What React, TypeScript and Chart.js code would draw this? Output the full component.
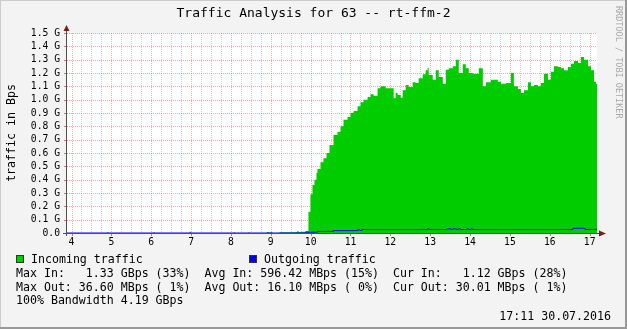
import { useEffect, useRef } from "react";
import { Chart, registerables } from "chart.js";

Chart.register(...registerables);

const FONT = "'DejaVu Sans Mono', monospace";
const TITLE = "Traffic Analysis for 63 -- rt-ffm-2";
const Y_TITLE = "traffic in Bps";
const WATERMARK = "RRDTOOL / TOBI OETIKER";
const TIMESTAMP = "17:11 30.07.2016";

const X_MIN = 3.887;
const X_MAX = 17.185;
const hourTicks = [4, 5, 6, 7, 8, 9, 10, 11, 12, 13, 14, 15, 16, 17];
const yTickValues = [0, 0.1, 0.2, 0.3, 0.4, 0.5, 0.6, 0.7, 0.8, 0.9, 1.0, 1.1, 1.2, 1.3, 1.4, 1.5];

const legendItems = ["Incoming traffic", "Outgoing traffic"];
const legendColors = ["#00CC00", "#0000FF"];
const legendRows = [
  "Max In:   1.33 GBps (33%)  Avg In: 596.42 MBps (15%)  Cur In:   1.12 GBps (28%)",
  "Max Out: 36.60 MBps ( 1%)  Avg Out: 16.10 MBps ( 0%)  Cur Out: 30.01 MBps ( 1%)",
  "100% Bandwidth 4.19 GBps",
];

// time in hours of day, value in G
const inTimes = [
  3.887, 4.9, 4.93, 6.06, 6.09, 6.96, 7.0, 8.07, 8.1, 8.44, 8.47, 8.9, 8.96, 9.0, 9.04, 9.22, 9.62, 9.66, 9.7,
  9.744, 9.87, 9.945, 9.995, 10.046, 10.096, 10.146, 10.171, 10.247, 10.322, 10.398, 10.473, 10.574, 10.674,
  10.75, 10.825, 10.926, 11.001, 11.077, 11.177, 11.253, 11.328, 11.429, 11.504, 11.58, 11.68, 11.756, 11.882,
  12.007, 12.083, 12.133, 12.183, 12.259, 12.309, 12.384, 12.46, 12.56, 12.636, 12.711, 12.812, 12.887, 12.937,
  12.963, 13.063, 13.139, 13.214, 13.315, 13.39, 13.466, 13.566, 13.642, 13.717, 13.818, 13.893, 13.968, 14.069,
  14.144, 14.22, 14.32, 14.396, 14.521, 14.697, 14.773, 14.898, 15.024, 15.099, 15.2, 15.275, 15.35, 15.451,
  15.526, 15.602, 15.702, 15.778, 15.853, 15.954, 16.029, 16.104, 16.205, 16.28, 16.356, 16.456, 16.532, 16.607,
  16.708, 16.783, 16.859, 16.959, 17.035, 17.11, 17.16, 17.185,
];
const inValues = [
  0, 0.008, 0, 0.006, 0, 0.01, 0, 0.006, 0, 0.006, 0, 0.008, 0.004, 0.008, 0, 0.006, 0.008, 0.014, 0.008,
  0.01, 0.015, 0.16, 0.29, 0.36, 0.4, 0.45, 0.48, 0.53, 0.56, 0.6, 0.66, 0.735, 0.76,
  0.8, 0.85, 0.87, 0.9, 0.915, 0.95, 0.98, 1.0, 1.02, 1.04, 1.03, 1.085, 1.1, 1.085,
  1.085, 1.01, 1.05, 1.035, 1.015, 1.07, 1.11, 1.095, 1.13, 1.125, 1.16, 1.19, 1.22, 1.24,
  1.185, 1.15, 1.22, 1.17, 1.12, 1.225, 1.235, 1.25, 1.3, 1.2, 1.265, 1.235, 1.2, 1.195,
  1.195, 1.235, 1.1, 1.13, 1.15, 1.135, 1.12, 1.125, 1.2, 1.1, 1.08, 1.05, 1.07, 1.13,
  1.1, 1.11, 1.1, 1.125, 1.195, 1.15, 1.21, 1.25, 1.245, 1.235, 1.22, 1.245, 1.27, 1.29,
  1.275, 1.32, 1.3, 1.25, 1.22, 1.135, 1.12, 1.12,
];

const outTimes = [
  3.887, 9.87, 10.17, 10.57, 11.18, 11.24, 11.29, 12.93, 12.98, 13.42, 13.52, 13.56, 13.66, 13.7, 13.76,
  13.92, 13.97, 14.02, 14.06, 16.58, 16.88, 17.185,
];
const outValues = [
  0, 0.006, 0.012, 0.018, 0.024, 0.019, 0.026, 0.031, 0.026, 0.031, 0.026, 0.031, 0.026, 0.031, 0.026,
  0.031, 0.026, 0.031, 0.026, 0.035, 0.027, 0.027,
];

const W = 627;
const H = 329;

const rrdPlugin = {
  id: "rrdDecor",
  beforeDraw(chart: any) {
    const { ctx, chartArea } = chart;
    ctx.save();
    ctx.fillStyle = "#F3F3F3";
    ctx.fillRect(0, 0, W, H);
    ctx.fillStyle = "#CBCBCB";
    ctx.fillRect(0, 0, W, 1);
    ctx.fillRect(0, 0, 1, H);
    ctx.fillStyle = "#999999";
    ctx.fillRect(0, H - 2, W, 2);
    ctx.fillRect(W - 2, 0, 2, H);
    ctx.fillStyle = "#FFFFFF";
    ctx.fillRect(chartArea.left, chartArea.top, chartArea.right - chartArea.left, chartArea.bottom - chartArea.top);
    ctx.restore();
  },
  beforeDatasetsDraw(chart: any) {
    const { ctx, chartArea, scales } = chart;
    const xs = scales.x;
    const ys = scales.y;
    ctx.save();
    ctx.lineWidth = 1;
    ctx.setLineDash([1, 1]);
    // minor vertical grid every 15 min
    ctx.strokeStyle = "rgba(150,150,150,0.45)";
    for (let h = 4; h <= 17.2; h += 0.25) {
      if (Math.abs(h - Math.round(h)) < 1e-6) continue;
      if (h > X_MAX) break;
      const px = Math.round(xs.getPixelForValue(h)) + 0.5;
      ctx.beginPath();
      ctx.moveTo(px, chartArea.top);
      ctx.lineTo(px, chartArea.bottom);
      ctx.stroke();
    }
    ctx.strokeStyle = "rgba(220,70,70,0.45)";
    for (const h of hourTicks) {
      const px = Math.round(xs.getPixelForValue(h)) + 0.5;
      ctx.beginPath();
      ctx.moveTo(px, chartArea.top);
      ctx.lineTo(px, chartArea.bottom);
      ctx.stroke();
    }
    for (const v of yTickValues) {
      if (v === 0) continue;
      const py = Math.round(ys.getPixelForValue(v)) + 0.5;
      ctx.beginPath();
      ctx.moveTo(chartArea.left, py);
      ctx.lineTo(chartArea.right, py);
      ctx.stroke();
    }
    ctx.restore();
  },
  afterDatasetsDraw(chart: any) {
    const { ctx, chartArea, scales } = chart;
    const xs = scales.x;
    const ys = scales.y;
    const left = chartArea.left;
    const bottom = chartArea.bottom;
    ctx.save();
    ctx.setLineDash([]);
    ctx.lineWidth = 1;
    // tick marks
    ctx.strokeStyle = "rgba(200,60,60,0.7)";
    for (const v of yTickValues) {
      const py = Math.round(ys.getPixelForValue(v)) + 0.5;
      ctx.beginPath();
      ctx.moveTo(left - 3, py);
      ctx.lineTo(left, py);
      ctx.stroke();
    }
    for (const h of hourTicks) {
      const px = Math.round(xs.getPixelForValue(h)) + 0.5;
      ctx.beginPath();
      ctx.moveTo(px, bottom);
      ctx.lineTo(px, bottom + 3);
      ctx.stroke();
    }
    // axes
    ctx.strokeStyle = "#505050";
    ctx.beginPath();
    ctx.moveTo(left - 0.5, bottom + 3);
    ctx.lineTo(left - 0.5, chartArea.top - 5);
    ctx.stroke();
    ctx.beginPath();
    ctx.moveTo(left - 4, bottom + 0.5);
    ctx.lineTo(chartArea.right + 3, bottom + 0.5);
    ctx.stroke();
    // arrows
    ctx.fillStyle = "#7F1A1A";
    ctx.beginPath();
    ctx.moveTo(left - 0.5, chartArea.top - 8);
    ctx.lineTo(left - 3.5, chartArea.top - 2);
    ctx.lineTo(left + 2.5, chartArea.top - 2);
    ctx.closePath();
    ctx.fill();
    ctx.beginPath();
    ctx.moveTo(chartArea.right + 9, bottom + 0.5);
    ctx.lineTo(chartArea.right + 2, bottom - 2.5);
    ctx.lineTo(chartArea.right + 2, bottom + 3.5);
    ctx.closePath();
    ctx.fill();
    ctx.restore();
  },
  afterDraw(chart: any) {
    const { ctx, chartArea } = chart;
    ctx.save();
    ctx.fillStyle = "#000";
    ctx.textBaseline = "middle";
    // title
    ctx.font = `13px ${FONT}`;
    ctx.textAlign = "center";
    ctx.fillText(TITLE, W / 2, 14);
    // y title
    ctx.save();
    ctx.font = `11.6px ${FONT}`;
    ctx.translate(12, (chartArea.top + chartArea.bottom) / 2);
    ctx.rotate(-Math.PI / 2);
    ctx.fillText(Y_TITLE, 0, 0);
    ctx.restore();
    // watermark
    ctx.save();
    ctx.font = `8.5px ${FONT}`;
    ctx.fillStyle = "#A8A8A8";
    ctx.textAlign = "left";
    ctx.translate(618.5, 6);
    ctx.rotate(Math.PI / 2);
    ctx.fillText(WATERMARK, 0, 0);
    ctx.restore();
    // legend
    ctx.font = `11.6px ${FONT}`;
    ctx.textAlign = "left";
    const legendX = [16, 249];
    legendItems.forEach((label, i) => {
      ctx.fillStyle = legendColors[i];
      ctx.fillRect(legendX[i], 255, 8, 8);
      ctx.strokeStyle = "#333";
      ctx.lineWidth = 1;
      ctx.strokeRect(legendX[i] + 0.5, 255.5, 7, 7);
      ctx.fillStyle = "#000";
      ctx.fillText(label, legendX[i] + 15, 259.5);
    });
    const rowY = [273.5, 287.5, 301];
    legendRows.forEach((row, i) => {
      ctx.fillText(row, 16, rowY[i]);
    });
    ctx.textAlign = "right";
    ctx.fillText(TIMESTAMP, 611, 316.5);
    ctx.restore();
  },
};

export default function App() {
  const canvasRef = useRef<HTMLCanvasElement | null>(null);

  useEffect(() => {
    document.body.style.margin = "0";
    const canvas = canvasRef.current;
    if (!canvas) return;
    const inData = inTimes.map((t, i) => ({ x: t, y: inValues[i] }));
    const outData = outTimes.map((t, i) => ({ x: t, y: outValues[i] }));
    const chart = new Chart(canvas, {
      type: "line",
      data: {
        datasets: [
          {
            label: legendItems[1],
            data: outData,
            borderColor: "#0000FF",
            borderWidth: 1,
            pointRadius: 0,
            stepped: true,
            fill: false,
            order: 0,
          },
          {
            label: legendItems[0],
            data: inData,
            borderColor: "rgba(0,0,0,0)",
            backgroundColor: "#00CC00",
            borderWidth: 0,
            pointRadius: 0,
            stepped: true,
            fill: "origin",
            order: 1,
          },
        ],
      },
      options: {
        animation: false,
        responsive: false,
        maintainAspectRatio: false,
        devicePixelRatio: 1,
        events: [],
        layout: { padding: { top: 33, right: 30, left: 0, bottom: 0 } },
        plugins: {
          legend: { display: false },
          title: { display: false },
          tooltip: { enabled: false },
        },
        scales: {
          x: {
            type: "linear",
            min: X_MIN,
            max: X_MAX,
            grid: { display: false, drawTicks: false, tickLength: 0 },
            border: { display: false },
            ticks: {
              font: { family: FONT, size: 9.7 },
              color: "#000",
              padding: 4,
              maxRotation: 0,
              autoSkip: false,
              callback: (v: any) => String(v),
            },
            afterBuildTicks: (s: any) => {
              s.ticks = hourTicks.map((v) => ({ value: v }));
            },
            afterFit: (s: any) => {
              s.height = H - 233;
            },
          },
          y: {
            type: "linear",
            min: 0,
            max: 1.5,
            grid: { display: false, drawTicks: false, tickLength: 0 },
            border: { display: false },
            ticks: {
              font: { family: FONT, size: 9.7 },
              color: "#000",
              padding: 7,
              autoSkip: false,
              callback: (v: any) => (v === 0 ? "0.0" : Number(v).toFixed(1) + " G"),
            },
            afterBuildTicks: (s: any) => {
              s.ticks = yTickValues.map((v) => ({ value: v }));
            },
            afterFit: (s: any) => {
              s.width = 67;
            },
          },
        },
      },
      plugins: [rrdPlugin],
    });
    return () => chart.destroy();
  }, []);

  return (
    <div style={{ position: "fixed", left: 0, top: 0, width: W, height: H }}>
      <canvas ref={canvasRef} width={W} height={H} style={{ display: "block", width: W, height: H }} />
    </div>
  );
}
